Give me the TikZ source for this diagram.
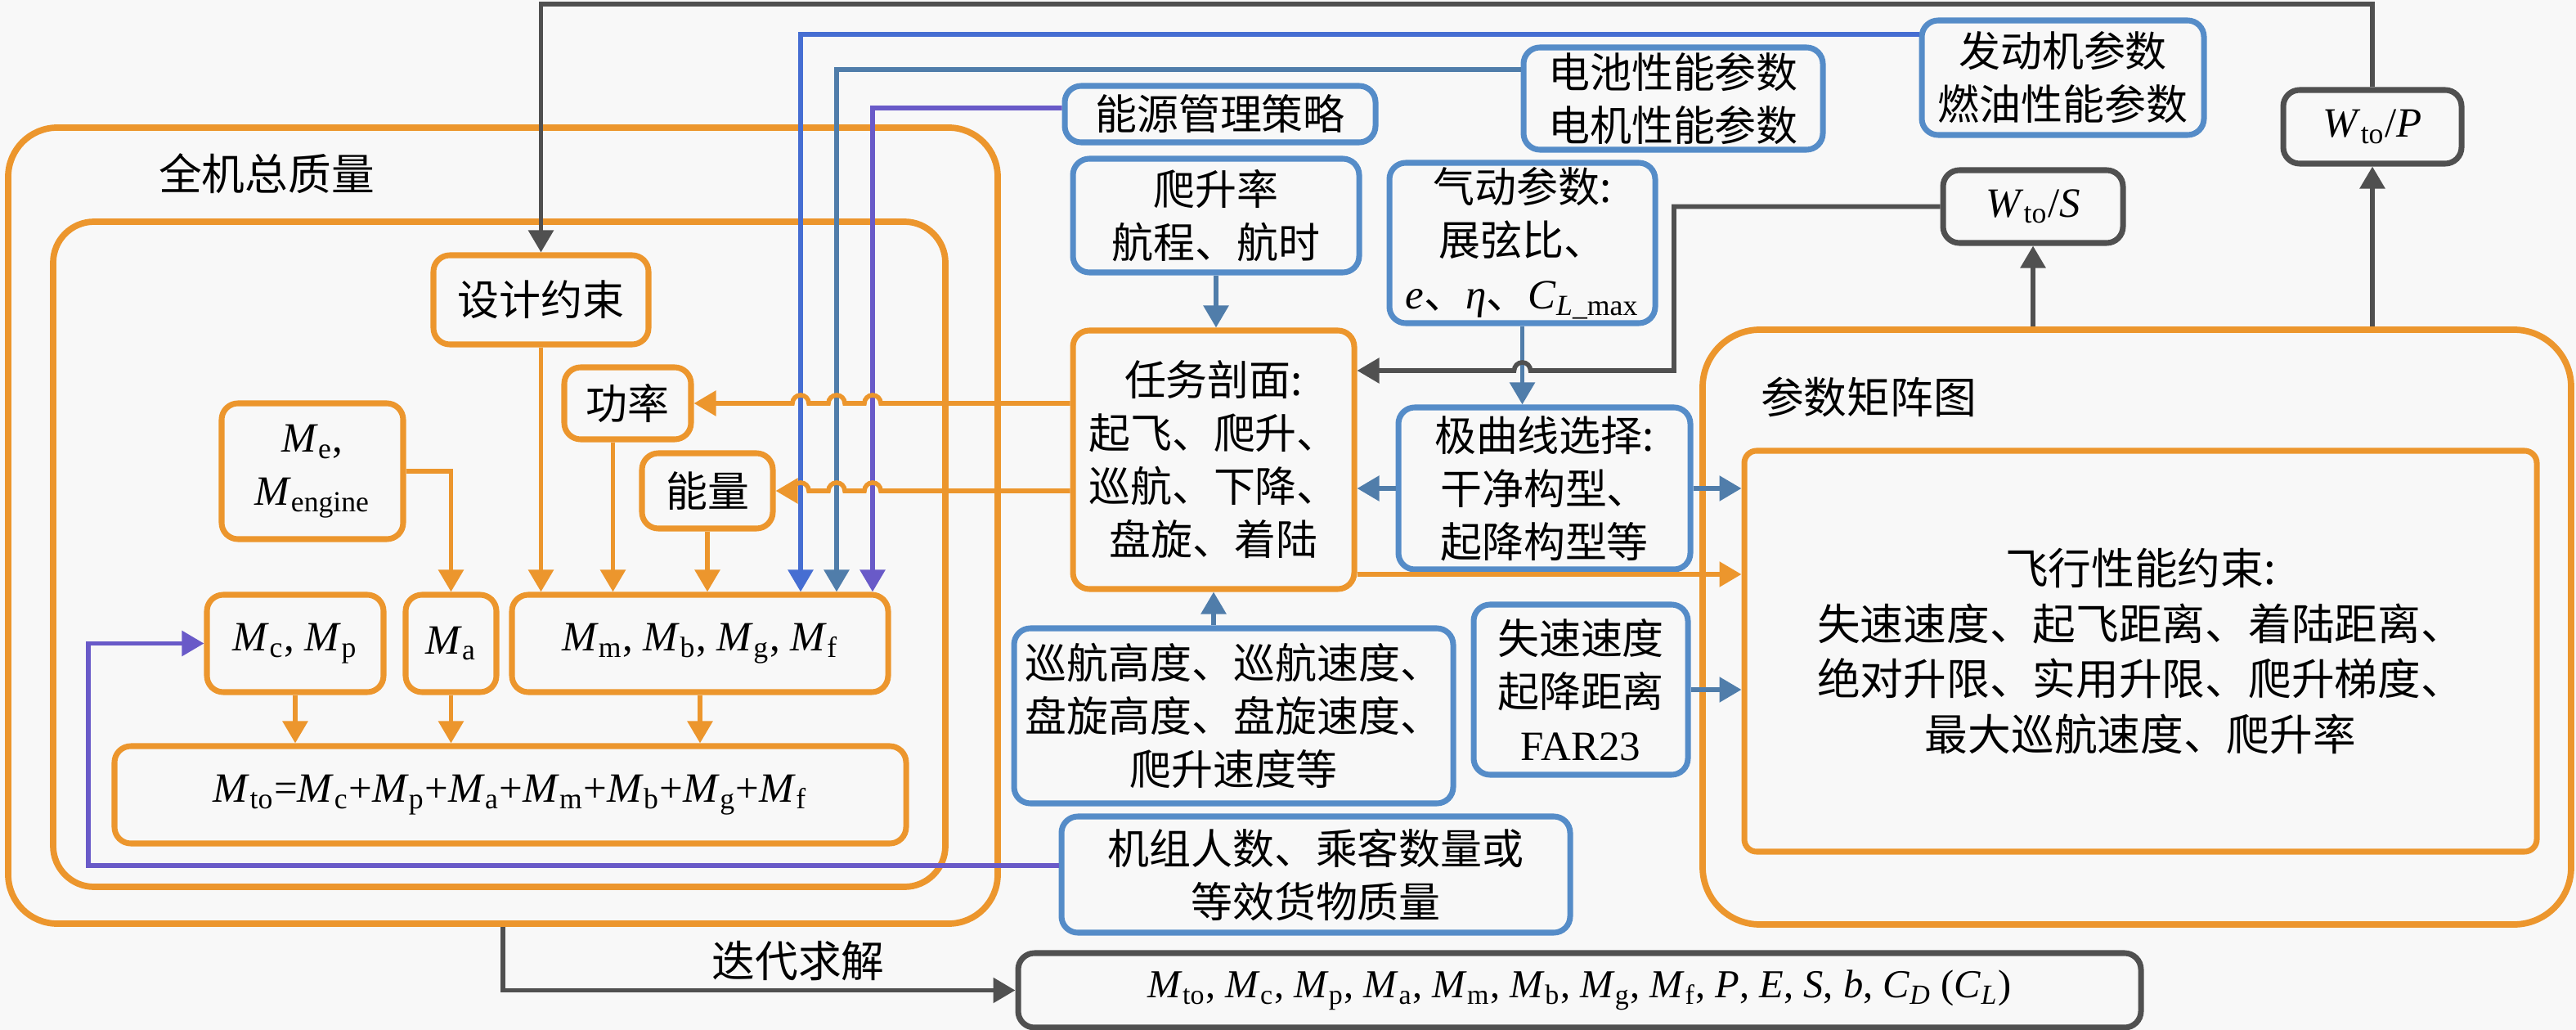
\documentclass[tikz,border=0pt]{standalone}
\usepackage{fontspec}
\setmainfont{Liberation Serif}
\newfontfamily\cjk{Noto Sans CJK SC}
\usepackage{xcolor}
\usepackage{tikz}
\usetikzlibrary{arrows.meta}
\usetikzlibrary{positioning}

\definecolor{bgC}{RGB}{248,248,248}
\definecolor{orangeC}{RGB}{236,150,45}
\definecolor{blueC}{RGB}{85,140,200}
\definecolor{steelC}{RGB}{80,125,170}
\definecolor{darkC}{RGB}{80,80,80}
\definecolor{purpleC}{RGB}{105,90,200}
\definecolor{brightC}{RGB}{70,110,210}

\newcommand{\msub}[2]{{\rmfamily\textit{#1}\textsubscript{#2}}}
\newcommand{\latin}{\rmfamily\fontsize{14.5}{18.5}\selectfont}

\begin{document}
\begin{tikzpicture}[
	line width=1.6pt,
	font=\cjk\fontsize{14.5}{18.5}\selectfont
]
\tikzset{
    obox/.style = {rectangle, rounded corners=0.2cm, draw=orangeC, line width=2pt, align=center, inner sep=1pt},
    bbox/.style = {obox, draw=blueC},
    dbox/.style = {obox, draw=darkC},
    bigbox/.style = {rectangle, rounded corners=0.6cm, draw=orangeC, line width=2.2pt},
    arr/.style = {-{Triangle[length=0.27cm,width=0.3cm]}},
    oarr/.style = {arr, draw=orangeC},
    barr/.style = {arr, draw=steelC},
    darr/.style = {arr, draw=darkC},
    parr/.style = {arr, draw=purpleC}
}
\fill[bgC] (0,0) rectangle (31.5,-12.59);
\useasboundingbox (0,0) rectangle (31.5,-12.59);

\node[bigbox,minimum width=12.10cm,minimum height=9.73cm] (quanji) at (6.15,-6.425) {};
\node[bigbox,rounded corners=0.5cm,minimum width=10.91cm,minimum height=8.13cm] (neibu) at (6.105,-6.775) {};
\node[font=\cjk\fontsize{15}{18}\selectfont] (quanjilbl) at (3.26,-2.12) {全机总质量};
\node[obox,minimum width=2.63cm,minimum height=1.09cm] (sheji) at (6.615,-3.665) {设计约束};
\node[obox,minimum width=1.55cm,minimum height=0.88cm] (gonglv) at (7.675,-4.93) {功率};
\node[obox,minimum width=1.60cm,minimum height=0.92cm] (nengliang) at (8.65,-6.00) {能量};
\node[obox,font=\latin,minimum width=2.22cm,minimum height=1.66cm] (Me) at (3.82,-5.76) {\msub{M}{e},\\\msub{M}{engine}};
\node[obox,font=\latin,minimum width=2.16cm,minimum height=1.19cm] (Mc) at (3.61,-7.865) {\msub{M}{c}, \msub{M}{p}};
\node[obox,font=\latin,minimum width=1.11cm,minimum height=1.19cm] (Ma) at (5.515,-7.865) {\msub{M}{a}};
\node[obox,font=\latin,minimum width=4.60cm,minimum height=1.19cm] (Mm) at (8.56,-7.865) {\msub{M}{m}, \msub{M}{b}, \msub{M}{g}, \msub{M}{f}};
\node[obox,font=\latin,minimum width=9.68cm,minimum height=1.19cm] (Mto) at (6.24,-9.715) {\msub{M}{to}=\msub{M}{c}+\msub{M}{p}+\msub{M}{a}+\msub{M}{m}+\msub{M}{b}+\msub{M}{g}+\msub{M}{f}};

\node[bbox,minimum width=3.80cm,minimum height=0.69cm] (nengyuan) at (14.92,-1.395) {能源管理策略};
\node[bbox,minimum width=3.66cm,minimum height=1.25cm] (dianchi) at (20.46,-1.205) {电池性能参数\\电机性能参数};
\node[bbox,minimum width=3.45cm,minimum height=1.40cm] (fadong) at (25.225,-0.95) {发动机参数\\燃油性能参数};
\node[dbox,font=\latin,minimum width=2.18cm,minimum height=0.90cm] (wtop) at (29.01,-1.55) {\msub{W}{to}/\textit{P}};
\node[dbox,font=\latin,minimum width=2.20cm,minimum height=0.89cm] (wtos) at (24.86,-2.525) {\msub{W}{to}/\textit{S}};
\node[bbox,minimum width=3.50cm,minimum height=1.39cm] (pasheng) at (14.87,-2.635) {爬升率\\航程、航时};
\node[bbox,minimum width=3.25cm,minimum height=1.96cm] (qidong) at (18.615,-2.97) {气动参数:\\展弦比、\\{\rmfamily\itshape e}、{\rmfamily\itshape η}、\msub{C}{\textit{L}\_max}};
\node[obox,minimum width=3.44cm,minimum height=3.16cm] (renwu) at (14.84,-5.62) {任务剖面:\\起飞、爬升、\\巡航、下降、\\盘旋、着陆};
\node[bbox,minimum width=3.57cm,minimum height=1.98cm] (jiquxian) at (18.885,-5.97) {极曲线选择:\\干净构型、\\起降构型等};
\node[bbox,minimum width=2.62cm,minimum height=2.08cm] (shisu) at (19.33,-8.43) {失速速度\\起降距离\\{\rmfamily FAR23}};
\node[bbox,minimum width=5.37cm,minimum height=2.14cm] (xunhang) at (15.085,-8.75) {巡航高度、巡航速度、\\盘旋高度、盘旋速度、\\爬升速度等};
\node[bbox,minimum width=6.22cm,minimum height=1.42cm] (jizu) at (16.09,-10.69) {机组人数、乘客数量或\\等效货物质量};

\node[bigbox,rounded corners=0.7cm,minimum width=10.62cm,minimum height=7.27cm] (canshu) at (26.13,-7.665) {};
\node[font=\cjk\fontsize{15}{18}\selectfont] (canshulbl) at (22.85,-4.85) {参数矩阵图};
\node[obox,rounded corners=0.15cm,font=\cjk\fontsize{15}{19.2}\selectfont,minimum width=9.69cm,minimum height=4.90cm] (feixing) at (26.175,-7.96) {飞行性能约束:\\失速速度、起飞距离、着陆距离、\\绝对升限、实用升限、爬升梯度、\\最大巡航速度、爬升率};

\node[dbox,font=\rmfamily\fontsize{13.8}{16}\selectfont,minimum width=13.73cm,minimum height=0.91cm] (dibu) at (19.315,-12.105) {\msub{M}{to}, \msub{M}{c}, \msub{M}{p}, \msub{M}{a}, \msub{M}{m}, \msub{M}{b}, \msub{M}{g}, \msub{M}{f}, \textit{P}, \textit{E}, \textit{S}, \textit{b}, \textit{C}\textsubscript{\textit{D}} (\textit{C}\textsubscript{\textit{L}})};
\node[font=\cjk\fontsize{15}{18}\selectfont] (diedai) at (9.76,-11.75) {迭代求解};

\coordinate (topy) at (0,-0.05);
\coordinate (c1) at (9.79,-0.42);
\coordinate (c2) at (10.23,-0.85);
\coordinate (c3) at (10.67,-1.32);
\coordinate (dk) at (20.47,-4.53);
\coordinate (oy) at (0,-7.02);
\coordinate (fb) at (1.08,-10.58);

\draw[darr] (wtop.north) |- (topy -| sheji.north) -- (sheji.north);
\draw[arr,draw=brightC] ([yshift=0.53cm]fadong.west) -- (c1) -- (c1 |- Mm.north);
\draw[barr] ([yshift=0.355cm]dianchi.west) -- (c2) -- (c2 |- Mm.north);
\draw[parr] ([yshift=0.075cm]nengyuan.west) -- (c3) -- (c3 |- Mm.north);

\draw[oarr] (sheji.south) -- (sheji.south |- Mm.north);
\draw[oarr] ([xshift=-0.18cm]gonglv.south) -- ([xshift=-0.18cm]gonglv.south |- Mm.north);
\draw[oarr] (nengliang.south) -- (nengliang.south |- Mm.north);
\draw[oarr] (Me.east) -| (Ma.north);
\draw[oarr] (Mc.south) -- (Mc.south |- Mto.north);
\draw[oarr] (Ma.south) -- (Ma.south |- Mto.north);
\draw[oarr] (Mm.south) -- (Mm.south |- Mto.north);

\draw[oarr] (renwu.west |- gonglv.east) -- (10.77,-4.93) arc[start angle=0,end angle=180,radius=0.1] -- (10.33,-4.93) arc[start angle=0,end angle=180,radius=0.1] -- (9.89,-4.93) arc[start angle=0,end angle=180,radius=0.1] -- (gonglv.east);
\draw[oarr] (renwu.west |- nengliang.east) -- (10.77,-6.00) arc[start angle=0,end angle=180,radius=0.1] -- (10.33,-6.00) arc[start angle=0,end angle=180,radius=0.1] -- (9.89,-6.00) arc[start angle=0,end angle=180,radius=0.1] -- (nengliang.east);
\draw[oarr] (oy -| renwu.east) -- (oy -| feixing.west);

\draw[barr] (pasheng.south) -- (pasheng.south |- renwu.north);
\draw[barr] (qidong.south) -- (qidong.south |- jiquxian.north);
\draw[barr] (jiquxian.west) -- (jiquxian.west -| renwu.east);
\draw[barr] (jiquxian.east) -- (jiquxian.east -| feixing.west);
\draw[barr] (shisu.east) -- (shisu.east -| feixing.west);
\draw[barr] (xunhang.north -| renwu.south) -- (renwu.south);

\draw[darr] (wtos.west) -| (dk) -- (18.715,-4.53) arc[start angle=0,end angle=180,radius=0.1] -- (dk -| renwu.east);
\draw[darr] (wtos.south |- canshu.north) -- (wtos.south);
\draw[darr] (wtop.south |- canshu.north) -- (wtop.south);

\draw[parr] (jizu.west |- fb) -- (fb) |- (Mc.west);
\draw[darr] (quanji.south) |- (dibu.west);
\end{tikzpicture}
\end{document}
